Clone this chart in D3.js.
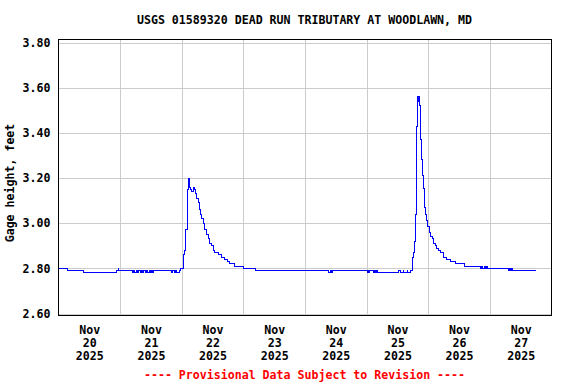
<!DOCTYPE html>
<html><head><meta charset="utf-8">
<script src="https://cdn.jsdelivr.net/npm/d3@7"></script>
<style>
body{margin:0;background:#fff}
text{font-family:"DejaVu Sans Mono",monospace;font-weight:bold;font-size:11.6px}
</style></head><body>
<svg id="c" width="576" height="384"></svg>
<script>
// ---- data (hours after 2025-11-20 00:00, gage height in feet; step-after) ----
const hours = [0,3.5,9.75,22.5,23.25,23.5,
 28.75,29.25,29.75,30.25,30.75,31.25,31.75,32.25,32.75,33.25,33.75,34.25,34.75,35.25,35.75,36.25,36.75,37.0,
 44.0,44.5,45.0,45.5,46.0,47.25,47.5,
 48.5,49.2,49.5,50.1,50.5,50.9,51.4,51.8,52.5,52.9,53.4,53.75,54.4,54.8,55.3,55.7,56.4,57.0,57.65,58.3,59.0,59.6,60.25,60.9,62.2,63.4,64.8,65.7,66.6,68.4,71.9,76.9,
 105.25,105.75,106.25,106.75,120.25,120.75,121.0,121.25,122.5,123.0,123.5,124.0,124.25,
 132.5,133.0,134.25,134.5,135.75,136.0,137.0,
 137.9,138.3,138.7,139.1,139.5,139.85,140.1,140.35,140.6,141.0,141.3,141.7,142.1,142.35,142.7,143.1,143.5,143.9,144.3,144.8,145.5,146.1,146.75,147.4,148.0,148.7,150.0,151.3,152.6,154.8,158.2,
 164.25,164.75,165.25,165.75,166.25,166.75,167.25,175.25,175.5,176.0,176.25,177.0,186.0];
const gageHeight = [2.80,2.79,2.78,2.79,2.80,2.79,
 2.78,2.79,2.78,2.79,2.78,2.79,2.78,2.79,2.78,2.79,2.78,2.79,2.78,2.79,2.78,2.79,2.78,2.79,
 2.78,2.79,2.78,2.79,2.78,2.79,2.80,
 2.86,2.88,2.97,3.15,3.20,3.16,3.15,3.14,3.16,3.15,3.13,3.11,3.09,3.06,3.04,3.02,3.00,2.97,2.95,2.93,2.91,2.90,2.88,2.87,2.86,2.85,2.84,2.83,2.82,2.81,2.80,2.79,
 2.78,2.79,2.78,2.79,2.78,2.79,2.78,2.79,2.78,2.79,2.78,2.79,2.78,
 2.79,2.78,2.79,2.78,2.79,2.78,2.79,
 2.85,2.87,2.92,3.04,3.43,3.56,3.54,3.56,3.52,3.37,3.28,3.21,3.155,3.12,3.07,3.04,3.01,2.985,2.96,2.94,2.93,2.91,2.90,2.89,2.88,2.87,2.85,2.84,2.83,2.82,2.81,
 2.80,2.81,2.80,2.81,2.80,2.81,2.80,2.79,2.80,2.79,2.80,2.79,2.79];
const yTicks = [2.60,2.80,3.00,3.20,3.40,3.60,3.80];
const dayLabels = ["20","21","22","23","24","25","26","27"];
const monthLabel = "Nov", yearLabel = "2025";
const title = "USGS 01589320 DEAD RUN TRIBUTARY AT WOODLAWN, MD";
const yTitle = "Gage height, feet";
const footer = "---- Provisional Data Subject to Revision ----";

const base = new Date(2025,10,20,0,0,0);
const toDate = h => new Date(base.getTime() + h*3600e3);
const data = hours.map((h,i)=>({t:toDate(h), v:gageHeight[i]}));

const X0=58.5, X1=551.5, Y0=39.5, Y1=315.5;
const svg = d3.select("#c");
const x = d3.scaleTime().domain([base, toDate(192)]).range([X0, X1]);
const y = d3.scaleLinear().domain([2.60,3.80]).range([313.5,42.5]);

// grid
const gridY = svg.append("g").attr("transform",`translate(${X0},0)`)
  .call(d3.axisLeft(y).tickValues(yTicks).tickSize(-(X1-X0)).tickFormat(""));
gridY.select(".domain").remove();
gridY.selectAll("line").attr("stroke","#cccccc").attr("shape-rendering","crispEdges");

const midnights = d3.range(1,8).map(d=>toDate(d*24));
const gridX = svg.append("g").attr("transform",`translate(0,${Y1})`)
  .call(d3.axisBottom(x).tickValues(midnights).tickSize(-(Y1-Y0)).tickFormat(""));
gridX.select(".domain").remove();
gridX.selectAll("line").attr("stroke","#cccccc").attr("shape-rendering","crispEdges");

// frame
svg.append("rect").attr("x",X0).attr("y",Y0).attr("width",X1-X0).attr("height",Y1-Y0)
  .attr("fill","none").attr("stroke","#000").attr("stroke-width",1.5).attr("shape-rendering","crispEdges");

// series
svg.append("path").datum(data)
  .attr("d", d3.line().x(d=>x(d.t)).y(d=>y(d.v)).curve(d3.curveStepAfter))
  .attr("fill","none").attr("stroke","#0000ff").attr("stroke-width",1).attr("shape-rendering","crispEdges");

// y labels
const ay = svg.append("g").attr("transform","translate(50.5,0)")
  .call(d3.axisLeft(y).tickValues(yTicks).tickSize(0).tickPadding(0).tickFormat(d3.format(".2f")));
ay.select(".domain").remove();
ay.selectAll("text").attr("fill","#000");

// x labels
const noons = dayLabels.map((d,i)=>toDate(i*24+12));
const ax = svg.append("g").attr("transform",`translate(0,${Y1})`)
  .call(d3.axisBottom(x).tickValues(noons).tickSize(0).tickFormat(()=>""));
ax.select(".domain").remove();
ax.selectAll(".tick text").attr("dy",null).attr("y",null).attr("fill","#000")
  .each(function(d,i){
    const t = d3.select(this);
    [[monthLabel,18.5],[dayLabels[i],31.5],[yearLabel,44.5]].forEach(([s,yy])=>{
      t.append("tspan").attr("x",0).attr("y",yy).text(s);
    });
  });

// titles
svg.append("text").attr("x",304.5).attr("y",24).attr("text-anchor","middle").text(title);
svg.append("text").attr("transform","translate(14,183) rotate(-90)").attr("text-anchor","middle").text(yTitle);
svg.append("text").attr("x",304.5).attr("y",379).attr("text-anchor","middle").attr("fill","#ff0000").text(footer);
</script></body></html>
